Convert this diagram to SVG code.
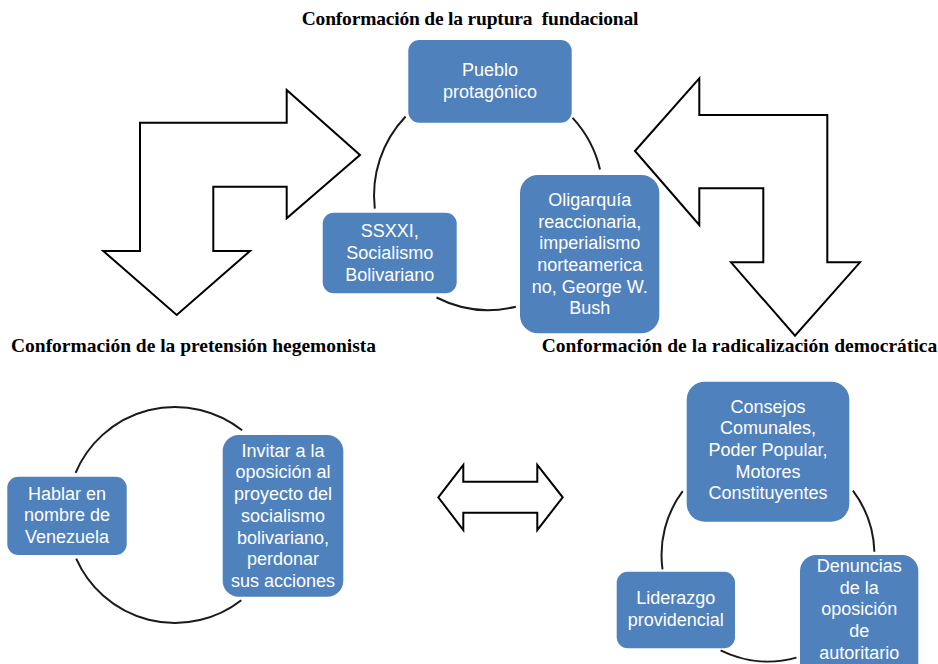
<svg xmlns="http://www.w3.org/2000/svg" width="938" height="664" viewBox="0 0 938 664">
<style>
.title{font-family:"Liberation Serif","Times New Roman",serif;font-weight:bold;font-size:19.5px;fill:#000}
.box{fill:#4F81BD}
.lbl{font-family:"Liberation Sans",Arial,sans-serif;font-size:18px;fill:#fff;text-anchor:middle}
.arc{fill:none;stroke:#1a1a1a;stroke-width:2}
.big{fill:#fff;stroke:#000;stroke-width:2;stroke-linejoin:miter}
</style>
<rect width="938" height="664" fill="#fff"/>

<text class="title" x="301.7" y="25" textLength="336.7" lengthAdjust="spacing" xml:space="preserve">Conformación de la ruptura  fundacional</text>
<text class="title" x="11" y="352" textLength="365" lengthAdjust="spacing">Conformación de la pretensión hegemonista</text>
<text class="title" x="541.7" y="352" textLength="395.6" lengthAdjust="spacing">Conformación de la radicalización democrática</text>

<g id="connectors">
  <path class="big" d="M140,122.7 L286.7,122.7 L286.7,90 L360,155 L286.7,218.3 L286.7,186.7 L213.3,186.7 L213.3,251 L250,251 L176.7,315 L103.3,251 L140,251 Z"/>
  <path class="big" d="M635,151 L699.3,78.3 L699.3,115 L827.3,115 L827.3,262.3 L860,262.3 L795,335.7 L731,262.3 L763.3,262.3 L763.3,188.3 L699.3,188.3 L699.3,225 Z"/>
  <path class="big" d="M438.3,497.3 L463.3,465 L463.3,481.7 L537.3,481.7 L537.3,465 L562.7,497.3 L537.3,530 L537.3,512.7 L463.3,512.7 L463.3,530 Z"/>
  <path class="arc" d="M405.6,116.5 A114.5,114.5 0 0 0 374.8,208.7"/>
  <path class="arc" d="M436.5,297.5 A114.5,114.5 0 0 0 515.8,306.7"/>
  <path class="arc" d="M600,169.4 A114.5,114.5 0 0 0 572.6,117.9"/>
  <path class="arc" d="M75.6,472.8 A108,108 0 0 1 242.1,430.3"/>
  <path class="arc" d="M76.2,558.6 A108,108 0 0 0 241.3,600.2"/>
  <path class="arc" d="M682.7,491.2 A106.5,106.5 0 0 0 662.5,569.3"/>
  <path class="arc" d="M852.9,490.7 A106.5,106.5 0 0 1 874.4,551.7"/>
  <path class="arc" d="M720.6,650.4 A106.5,106.5 0 0 0 796.5,657.6"/>
</g>

<g id="pueblo">
  <rect class="box" x="408.3" y="40" width="163.4" height="82.7" rx="11"/>
  <text class="lbl" x="490" y="76.4">Pueblo</text>
  <text class="lbl" x="490" y="98.2">protagónico</text>
</g>
<g id="ssxxi">
  <rect class="box" x="322.7" y="212.7" width="134" height="80.6" rx="11"/>
  <text class="lbl" x="389.7" y="237.4">SSXXI,</text>
  <text class="lbl" x="389.7" y="259.1">Socialismo</text>
  <text class="lbl" x="389.7" y="280.8">Bolivariano</text>
</g>
<g id="oligarquia">
  <rect class="box" x="520" y="175" width="139.3" height="158.3" rx="18"/>
  <text class="lbl" x="589.7" y="205.8">Oligarquía</text>
  <text class="lbl" x="589.7" y="227.5">reaccionaria,</text>
  <text class="lbl" x="589.7" y="249.2">imperialismo</text>
  <text class="lbl" x="589.7" y="270.9">norteamerica</text>
  <text class="lbl" x="589.7" y="292.6">no, George W.</text>
  <text class="lbl" x="589.7" y="314.3">Bush</text>
</g>
<g id="hablar">
  <rect class="box" x="7.3" y="476.7" width="119.4" height="78.3" rx="11"/>
  <text class="lbl" x="67" y="499.5">Hablar en</text>
  <text class="lbl" x="67" y="521.2">nombre de</text>
  <text class="lbl" x="67" y="542.9">Venezuela</text>
</g>
<g id="invitar">
  <rect class="box" x="222.7" y="435" width="120.6" height="161.7" rx="16"/>
  <text class="lbl" x="283" y="456.7">Invitar a la</text>
  <text class="lbl" x="283" y="478.4">oposición al</text>
  <text class="lbl" x="283" y="500.1">proyecto del</text>
  <text class="lbl" x="283" y="521.8">socialismo</text>
  <text class="lbl" x="283" y="543.5">bolivariano,</text>
  <text class="lbl" x="283" y="565.2">perdonar</text>
  <text class="lbl" x="283" y="586.9">sus acciones</text>
</g>
<g id="consejos">
  <rect class="box" x="686.7" y="381.7" width="162.6" height="140" rx="18"/>
  <text class="lbl" x="768" y="412.5">Consejos</text>
  <text class="lbl" x="768" y="434.2">Comunales,</text>
  <text class="lbl" x="768" y="455.9">Poder Popular,</text>
  <text class="lbl" x="768" y="477.6">Motores</text>
  <text class="lbl" x="768" y="499.3">Constituyentes</text>
</g>
<g id="denuncias">
  <rect class="box" x="800" y="555" width="118.3" height="130" rx="16"/>
  <text class="lbl" x="859.2" y="572">Denuncias</text>
  <text class="lbl" x="859.2" y="593.7">de la</text>
  <text class="lbl" x="859.2" y="615.4">oposición</text>
  <text class="lbl" x="859.2" y="637.1">de</text>
  <text class="lbl" x="859.2" y="658.8">autoritario</text>
</g>
<g id="liderazgo">
  <rect class="box" x="616.7" y="571.7" width="118.3" height="76.6" rx="11"/>
  <text class="lbl" x="675.8" y="604">Liderazgo</text>
  <text class="lbl" x="675.8" y="625.7">providencial</text>
</g>
</svg>
